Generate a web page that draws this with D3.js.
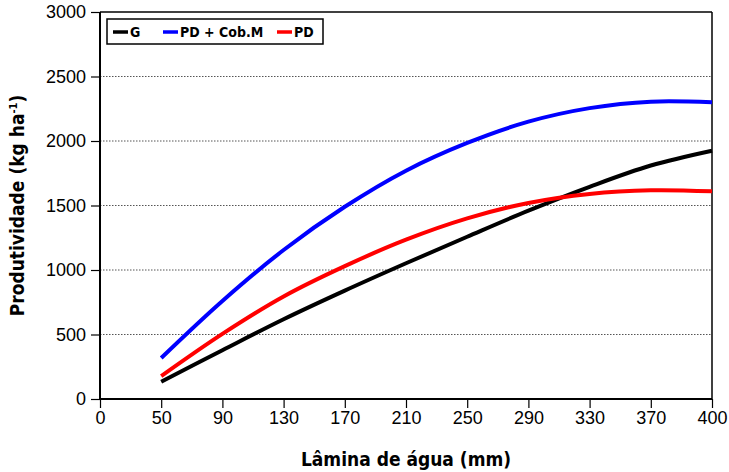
<!DOCTYPE html>
<html>
<head>
<meta charset="utf-8">
<script src="https://cdn.jsdelivr.net/npm/d3@7"></script>
<style>
  body { margin: 0; background: #fff; }
  .tick text { font-family: 'Liberation Sans', Arial, sans-serif; font-size: 18px; fill: #000; }
  .title { font-family: 'Liberation Sans Narrow', 'DejaVu Sans Condensed', sans-serif; font-weight: bold; font-size: 19px; }
  .legend text { font-family: 'Liberation Sans Narrow', 'DejaVu Sans Condensed', sans-serif; font-weight: bold; font-size: 14px; }
</style>
</head>
<body>
<script>
// tick labels on the x axis (evenly spaced on the original chart)
var xTicks = [0, 50, 90, 130, 170, 210, 250, 290, 330, 370, 400];
var yTicks = [0, 500, 1000, 1500, 2000, 2500, 3000];

// water depth (mm)
var lamina = [50, 90, 130, 170, 210, 250, 290, 330, 370, 400];

// yield (kg/ha) per treatment
var serieG = [134, 378, 618, 840, 1052, 1258, 1460, 1645, 1810, 1925];
var seriePDCob = [318, 760, 1155, 1490, 1770, 1985, 2150, 2255, 2305, 2300];
var seriePD = [178, 505, 795, 1030, 1235, 1400, 1520, 1590, 1618, 1610];

var series = [
    {name: 'G', values: serieG, color: '#000000'},
    {name: 'PD + Cob.M', values: seriePDCob, color: '#0000ff'},
    {name: 'PD', values: seriePD, color: '#ff0000'}
];

var width = 729, height = 472;
var plotLeft = 100, plotRight = 712, plotTop = 12, plotBottom = 399;

var svg = d3.select('body')
    .append('svg')
    .attr('width', width)
    .attr('height', height);

// piecewise scale: each labelled tick gets the same spacing
var step = (plotRight - plotLeft) / (xTicks.length - 1);
var x = d3.scaleLinear()
    .domain(xTicks)
    .range(xTicks.map(function(d, i) { return plotLeft + i * step; }));

var y = d3.scaleLinear()
    .domain([0, 3000])
    .range([plotBottom, plotTop]);

// dotted grid lines
svg.append('g')
    .selectAll('line')
    .data(yTicks.filter(function(d) { return d > 0 && d < 3000; }))
    .enter()
    .append('line')
    .attr('x1', plotLeft)
    .attr('x2', plotRight)
    .attr('y1', function(d) { return y(d); })
    .attr('y2', function(d) { return y(d); })
    .style('stroke', '#555')
    .style('stroke-width', 1)
    .style('stroke-dasharray', '1.5,1.5');

// axes
var xAxis = d3.axisBottom(x)
    .tickValues(xTicks)
    .tickSize(9)
    .tickPadding(3)
    .tickFormat(d3.format('d'));

svg.append('g')
    .attr('transform', 'translate(0,' + plotBottom + ')')
    .call(xAxis)
    .call(function(g) { g.select('.domain').remove(); })
    .selectAll('line').style('stroke', '#000').style('stroke-width', 1.2);

var yAxis = d3.axisLeft(y)
    .tickValues(yTicks)
    .tickSize(9)
    .tickPadding(5)
    .tickFormat(d3.format('d'));

svg.append('g')
    .attr('transform', 'translate(' + plotLeft + ',0)')
    .call(yAxis)
    .call(function(g) { g.select('.domain').remove(); })
    .selectAll('line').style('stroke', '#000').style('stroke-width', 1.2);

// plot frame
svg.append('line').attr('x1', plotLeft).attr('x2', plotRight).attr('y1', plotTop).attr('y2', plotTop)
    .style('stroke', '#000').style('stroke-width', 1.5);
svg.append('line').attr('x1', plotRight).attr('x2', plotRight).attr('y1', plotTop).attr('y2', plotBottom)
    .style('stroke', '#000').style('stroke-width', 1.5);
svg.append('line').attr('x1', plotLeft).attr('x2', plotLeft).attr('y1', plotTop).attr('y2', plotBottom)
    .style('stroke', '#000').style('stroke-width', 2);
svg.append('line').attr('x1', plotLeft).attr('x2', plotRight).attr('y1', plotBottom).attr('y2', plotBottom)
    .style('stroke', '#000').style('stroke-width', 2);

// curves
var line = d3.line()
    .x(function(d) { return x(d[0]); })
    .y(function(d) { return y(d[1]); })
    .curve(d3.curveCatmullRom.alpha(0.5));

svg.selectAll('.curve')
    .data(series)
    .enter()
    .append('path')
    .attr('class', 'curve')
    .attr('d', function(s) {
        return line(lamina.map(function(l, i) { return [l, s.values[i]]; }));
    })
    .style('fill', 'none')
    .style('stroke', function(s) { return s.color; })
    .style('stroke-width', 4);

// legend
var legend = svg.append('g').attr('class', 'legend');
legend.append('rect')
    .attr('x', 107).attr('y', 19)
    .attr('width', 216).attr('height', 25)
    .style('fill', '#fff')
    .style('stroke', '#000')
    .style('stroke-width', 1.5);

var legendX = [113, 163, 277];
var items = legend.selectAll('.item')
    .data(series)
    .enter()
    .append('g')
    .attr('class', 'item')
    .attr('transform', function(d, i) { return 'translate(' + legendX[i] + ',32)'; });

items.append('line')
    .attr('x1', 0).attr('x2', 15)
    .style('stroke', function(d) { return d.color; })
    .style('stroke-width', 3.5);

items.append('text')
    .attr('x', 17)
    .attr('dy', '0.36em')
    .text(function(d) { return d.name; });

// axis titles
svg.append('text')
    .attr('class', 'title')
    .attr('text-anchor', 'middle')
    .attr('x', (plotLeft + plotRight) / 2)
    .attr('y', 466)
    .text('Lâmina de água (mm)');

var yTitle = svg.append('text')
    .attr('class', 'title')
    .attr('text-anchor', 'middle')
    .attr('transform', 'translate(24,' + ((plotTop + plotBottom) / 2) + ') rotate(-90)');
yTitle.append('tspan').text('Produtividade (kg ha');
yTitle.append('tspan').attr('dy', -7).style('font-size', '11px').text('-1');
yTitle.append('tspan').attr('dy', 7).text(')');
</script>
</body>
</html>
